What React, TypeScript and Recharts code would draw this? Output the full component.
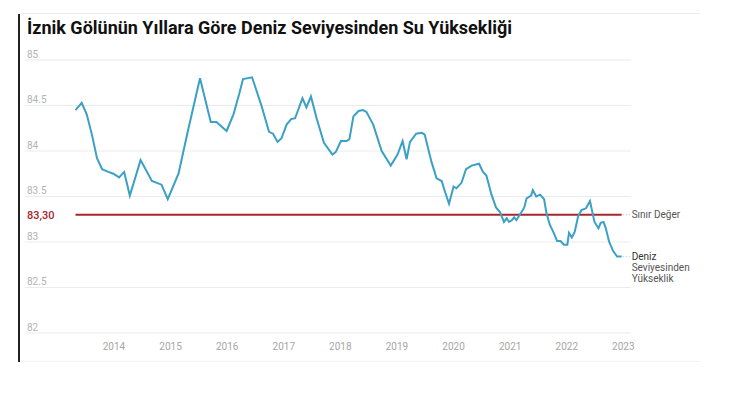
import React from "react";
import {
  CartesianGrid,
  LabelList,
  Line,
  LineChart,
  ReferenceLine,
  XAxis,
  YAxis,
} from "recharts";

// decimal year of each reading
const years = [
  2013.32, 2013.43, 2013.52, 2013.61, 2013.7, 2013.79, 2013.9, 2013.99, 2014.09, 2014.18,
  2014.28, 2014.47, 2014.67, 2014.84, 2014.95, 2015.14, 2015.31, 2015.52, 2015.71, 2015.81,
  2015.99, 2016.11, 2016.21, 2016.28, 2016.44, 2016.6, 2016.74, 2016.81, 2016.89, 2016.96,
  2017.05, 2017.13, 2017.2, 2017.33, 2017.4, 2017.48, 2017.58, 2017.71, 2017.86, 2017.92,
  2018.01, 2018.11, 2018.16, 2018.23, 2018.32, 2018.4, 2018.46, 2018.58, 2018.73, 2018.89,
  2019.01, 2019.1, 2019.17, 2019.23, 2019.34, 2019.44, 2019.49, 2019.61, 2019.7, 2019.79,
  2019.85, 2019.92, 2020.0, 2020.05, 2020.14, 2020.22, 2020.32, 2020.45, 2020.52, 2020.58,
  2020.67, 2020.75, 2020.82, 2020.89, 2020.94, 2020.98, 2021.03, 2021.07, 2021.11, 2021.17,
  2021.25, 2021.29, 2021.37, 2021.4, 2021.46, 2021.53, 2021.6, 2021.64, 2021.7, 2021.77,
  2021.83, 2021.89, 2021.95, 2022.01, 2022.04, 2022.09, 2022.14, 2022.2, 2022.26, 2022.34,
  2022.41, 2022.49, 2022.56, 2022.6, 2022.65, 2022.69, 2022.75, 2022.82, 2022.89, 2022.97,
];

// water level above sea level (m)
const levels = [
  84.45, 84.53, 84.4, 84.18, 83.92, 83.8, 83.77, 83.75, 83.71, 83.77,
  83.51, 83.9, 83.67, 83.63, 83.47, 83.75, 84.23, 84.8, 84.32, 84.32,
  84.22, 84.4, 84.62, 84.79, 84.81, 84.51, 84.21, 84.19, 84.1, 84.14,
  84.29, 84.35, 84.36, 84.58, 84.48, 84.6, 84.36, 84.09, 83.96, 83.99,
  84.11, 84.11, 84.13, 84.38, 84.44, 84.45, 84.43, 84.29, 84.0, 83.84,
  83.96, 84.11, 83.91, 84.1, 84.19, 84.2, 84.18, 83.88, 83.7, 83.67,
  83.55, 83.42, 83.61, 83.59, 83.65, 83.8, 83.84, 83.86, 83.77, 83.73,
  83.52, 83.38, 83.33, 83.22, 83.26, 83.22, 83.24, 83.27, 83.24, 83.3,
  83.38, 83.48, 83.51, 83.57, 83.5, 83.52, 83.47, 83.32, 83.19, 83.1,
  83.01, 83.01, 82.97, 82.97, 83.1, 83.05, 83.11, 83.28, 83.35, 83.37,
  83.45, 83.22, 83.15, 83.21, 83.22, 83.15, 83.0, 82.9, 82.84, 82.84,
];

const yearTicks = [2014, 2015, 2016, 2017, 2018, 2019, 2020, 2021, 2022, 2023];
const levelTicks = [82, 82.5, 83, 83.5, 84, 84.5, 85];
const limitValue = 83.3;
const limitText = "83,30";
const limitName = "Sınır Değer";
const seriesName = ["Deniz", "Seviyesinden", "Yükseklik"];
const title = "İznik Gölünün Yıllara Göre Deniz Seviyesinden Su Yüksekliği";

const data = years.map((t, i) => ({ t, level: levels[i] }));

const PLOT_LEFT = 25;
const LINE_COLOR = "#3aa0c4";
const LIMIT_COLOR = "#a8262e";
const FONT = "Roboto, 'Noto Sans', sans-serif";

const YTick = (props: any) => {
  const { y, payload } = props;
  return (
    <text x={PLOT_LEFT + 2} y={y - 2.5} fill="#b3b3b3" fontSize={10} fontFamily={FONT}>
      {String(payload.value)}
    </text>
  );
};

const LimitLabel = (props: any) => {
  const vb = props.viewBox || {};
  const y = vb.y;
  const end = vb.x + vb.width;
  return (
    <g>
      <text
        x={PLOT_LEFT + 2}
        y={y}
        dy="0.35em"
        fill={LIMIT_COLOR}
        fontSize={11}
        fontWeight={500}
        fontFamily={FONT}
      >
        {limitText}
      </text>
      <line x1={end + 1} x2={end + 8} y1={y} y2={y} stroke="#e0a0a4" strokeDasharray="1 2" />
      <text x={end + 10} y={y} dy="0.35em" fill="#555" fontSize={10} fontFamily={FONT}>
        {limitName}
      </text>
    </g>
  );
};

const EndLabel = (props: any) => {
  const { x, y, index } = props;
  if (index !== data.length - 1) return null;
  return (
    <g>
      <line x1={x + 1} x2={x + 8} y1={y} y2={y} stroke="#9fd0e2" strokeDasharray="1 2" />
      {seriesName.map((s, i) => (
        <text
          key={s}
          x={x + 10}
          y={y + i * 11}
          dy="0.35em"
          fill={i === 0 ? "#333" : "#555"}
          fontSize={10}
          fontFamily={FONT}
        >
          {s}
        </text>
      ))}
    </g>
  );
};

export default function App() {
  return (
    <div
      style={{
        position: "absolute",
        left: 0,
        top: 0,
        width: 750,
        height: 393,
        background: "#fff",
        overflow: "hidden",
      }}
    >
      <div style={{ position: "absolute", left: 18, top: 14, width: 2, height: 348, background: "#222" }} />
      <div style={{ position: "absolute", left: 20, top: 13, width: 680, height: 1, background: "#ececec" }} />
      <div style={{ position: "absolute", left: 20, top: 361, width: 680, height: 1, background: "#f2f2f2" }} />
      <div
        style={{
          position: "absolute",
          left: 27,
          top: 17,
          fontFamily: FONT,
          fontWeight: 700,
          fontSize: 18,
          lineHeight: "21px",
          color: "#111",
          letterSpacing: 0,
          whiteSpace: "nowrap",
        }}
      >
        {title}
      </div>
      <div style={{ position: "absolute", left: 0, top: 0 }}>
        <LineChart
          width={750}
          height={393}
          data={data}
          margin={{ top: 60, right: 119, bottom: 30, left: PLOT_LEFT }}
        >
          <CartesianGrid vertical={false} stroke="#ebebeb" />
          <XAxis
            dataKey="t"
            type="number"
            domain={[2012.428, 2023.135]}
            ticks={yearTicks}
            allowDataOverflow
            axisLine={false}
            tickLine={false}
            tickMargin={4}
            height={30}
            tick={{ fill: "#a6a6a6", fontSize: 10, fontFamily: FONT }}
          />
          <YAxis
            type="number"
            domain={[82, 85]}
            ticks={levelTicks}
            mirror
            width={40}
            axisLine={false}
            tickLine={false}
            tick={YTick}
          />
          <ReferenceLine
            segment={[
              { x: years[0], y: limitValue },
              { x: years[years.length - 1], y: limitValue },
            ]}
            stroke={LIMIT_COLOR}
            strokeWidth={2}
            label={LimitLabel}
          />
          <Line
            type="linear"
            dataKey="level"
            stroke={LINE_COLOR}
            strokeWidth={2}
            dot={false}
            isAnimationActive={false}
          >
            <LabelList dataKey="level" content={EndLabel} />
          </Line>
        </LineChart>
      </div>
    </div>
  );
}
